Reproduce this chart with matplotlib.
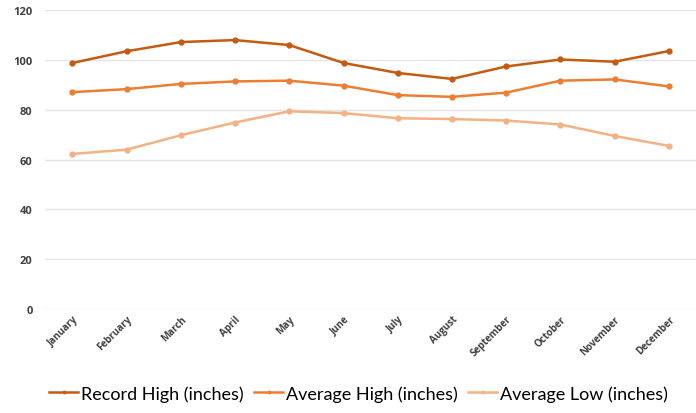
import matplotlib.pyplot as plt
import numpy as np

meses = ["January", "February", "March", "April", "May", "June", "July",
         "August", "September", "October", "November", "December"]
record_high = [98.8, 103.5, 107.2, 108.0, 106.0, 98.8, 94.8, 92.4, 97.4, 100.2, 99.3, 103.6]
average_high = [87.1, 88.3, 90.4, 91.4, 91.7, 89.7, 85.9, 85.2, 86.9, 91.7, 92.2, 89.4]
average_low = [62.3, 64.0, 69.8, 74.9, 79.4, 78.7, 76.6, 76.3, 75.7, 74.1, 69.5, 65.5]

plt.rcParams['font.family'] = ['Lato', 'DejaVu Sans']

fig = plt.figure(figsize=(6.96, 4.14), dpi=100)
ax = fig.add_axes([0.065, 0.251, 0.935, 0.722])

x = np.arange(len(meses))
ax.plot(x, record_high, color='#C55A11', lw=1.8, marker='o', ms=3.5, label='Record High (inches)')
ax.plot(x, average_high, color='#ED7D31', lw=1.8, marker='o', ms=3.5, label='Average High (inches)')
ax.plot(x, average_low, color='#F4B183', lw=1.8, marker='o', ms=3.5, label='Average Low (inches)')

ax.set_xlim(-0.5, 11.5)
ax.set_ylim(0, 120)
ax.set_yticks(range(0, 121, 20))
ax.set_xticks(x)
ax.set_xticklabels(meses, rotation=45, ha='right', rotation_mode='anchor',
                   fontsize=7, fontweight='bold', color='#404040', family='Open Sans')
for t in ax.get_yticklabels():
    t.set_fontsize(8)
    t.set_fontweight('bold')
    t.set_color('#404040')
    t.set_family('Open Sans')

ax.grid(True, axis='y', color='#e4e4e4', lw=1)
ax.set_axisbelow(True)
for s in ax.spines.values():
    s.set_visible(False)
ax.tick_params(axis='y', length=0, pad=9)
ax.tick_params(axis='x', length=0, pad=3)

fig.legend(loc='lower center', bbox_to_anchor=(0.515, -0.012), ncol=3, frameon=False,
           fontsize=13, handlelength=1.6, handletextpad=0.15, columnspacing=0.6,
           markerscale=0.5)

plt.savefig('out.png', dpi=100)
